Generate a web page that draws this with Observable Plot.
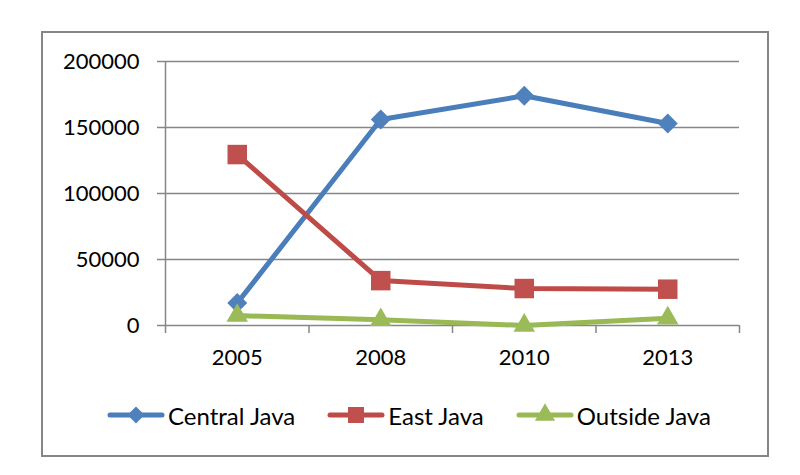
<!DOCTYPE html>
<html>
<head>
<meta charset="utf-8">
<script src="https://cdn.jsdelivr.net/npm/d3@7"></script>
<script src="https://cdn.jsdelivr.net/npm/@observablehq/plot@0.6"></script>
<style>
  html, body { margin: 0; padding: 0; background: #fff; }
  #chart { position: relative; width: 800px; height: 475px; overflow: hidden; font-family: Lato, "Open Sans", sans-serif; }
  #frame { position: absolute; left: 41px; top: 31px; width: 724px; height: 422px; border: 2px solid #868686; }
  #plot { position: absolute; left: 0; top: 0; }
  #legend { position: absolute; left: 107px; top: 400px; height: 30px; display: flex; align-items: center; font-size: 24px; color: #000; white-space: nowrap; }
  .item { display: flex; align-items: center; margin-right: 32px; }
  .item svg { margin-right: 3px; }
</style>
</head>
<body>
<div id="chart">
  <div id="frame"></div>
  <div id="plot"></div>
  <div id="legend"></div>
</div>
<script>
// Categories and series
const years = ["2005", "2008", "2010", "2013"];
const seriesNames = ["Central Java", "East Java", "Outside Java"];
const centralJava = [17000, 156000, 174000, 153000];
const eastJava = [129500, 34000, 28000, 27500];
const outsideJava = [7500, 4300, 0, 5500];
const yTicks = [0, 50000, 100000, 150000, 200000];

const seriesValues = [centralJava, eastJava, outsideJava];
const lineColors = ["#4a7ebb", "#be4b48", "#98b954"];
const markerColors = ["#4f81bd", "#c0504d", "#9bbb59"];
const markerSymbols = ["square", "square", "triangle"];
const markerRotate = [45, 0, 0];
const markerR = [8, 11, 8];

// Long table: x is the category index centred in its band
const rows = seriesNames.flatMap((name, s) =>
  years.map((yr, i) => ({series: name, s, x: i + 0.5, year: yr, value: seriesValues[s][i]}))
);

const seriesMarks = seriesNames.flatMap((name, s) => {
  const data = rows.filter(d => d.s === s);
  return [
    Plot.line(data, {x: "x", y: "value", stroke: lineColors[s], strokeWidth: 5, strokeLinejoin: "round", strokeLinecap: "round"}),
    Plot.dot(data, {x: "x", y: "value", symbol: markerSymbols[s], r: markerR[s], rotate: markerRotate[s], fill: markerColors[s], stroke: "none"})
  ];
});

const chart = Plot.plot({
  width: 800,
  height: 400,
  marginLeft: 165,
  marginRight: 61,
  marginTop: 61,
  marginBottom: 75,
  style: {fontFamily: "Lato, 'Open Sans', sans-serif", fontSize: "22px", color: "#000", background: "transparent"},
  x: {type: "linear", domain: [0, years.length]},
  y: {domain: [0, 200000]},
  marks: [
    Plot.ruleY(yTicks, {stroke: "#868686", strokeWidth: 1.5}),
    Plot.ruleX([0], {y1: 0, y2: 200000, stroke: "#868686", strokeWidth: 1.5}),
    Plot.axisY({ticks: yTicks, tickSize: 8, tickPadding: 18, tickFormat: d => String(d), stroke: "#868686", strokeWidth: 1.5, fill: "#000", label: null}),
    Plot.axisX({ticks: d3.range(years.length + 1), tickSize: 8, tickFormat: () => "", stroke: "#868686", strokeWidth: 1.5, label: null}),
    Plot.axisX({ticks: years.map((_, i) => i + 0.5), tickSize: 0, tickPadding: 24, tickFormat: v => years[Math.floor(v)], fill: "#000", label: null}),
    ...seriesMarks
  ]
});
document.getElementById("plot").appendChild(chart);

// Legend: line swatch with its marker, then the series name
const legend = d3.select("#legend");
seriesNames.forEach((name, s) => {
  const item = legend.append("div").attr("class", "item");
  const sw = item.append("svg").attr("width", 58).attr("height", 30);
  sw.append("line").attr("x1", 3).attr("x2", 55).attr("y1", 15).attr("y2", 15)
    .attr("stroke", lineColors[s]).attr("stroke-width", 5).attr("stroke-linecap", "round");
  const sym = s === 2 ? d3.symbolTriangle : d3.symbolSquare;
  const size = Math.PI * (s === 1 ? 9 : s === 0 ? 6.8 : 7.5) ** 2;
  sw.append("path").attr("d", d3.symbol(sym, size)())
    .attr("transform", `translate(29,15) rotate(${markerRotate[s]})`)
    .attr("fill", markerColors[s]);
  item.append("span").text(name);
});
</script>
</body>
</html>
